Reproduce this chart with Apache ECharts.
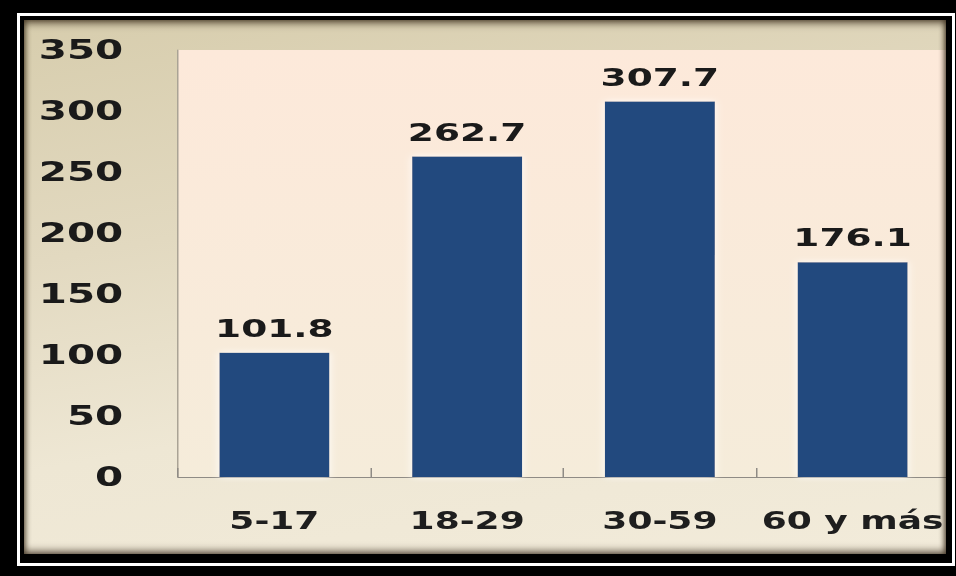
<!DOCTYPE html>
<html>
<head>
<meta charset="utf-8">
<script src="https://cdn.jsdelivr.net/npm/echarts@6/dist/echarts.min.js"></script>
<style>
html,body{margin:0;padding:0;background:#000;width:956px;height:576px;overflow:hidden;}
#white{position:absolute;left:17px;top:13px;width:938px;height:553px;background:#fff;}
#blackin{position:absolute;left:20px;top:16px;width:932px;height:547px;background:#000;}
#beige{position:absolute;left:24px;top:20px;width:922px;height:534px;
  background:linear-gradient(170deg,#d7cdad 0%,#e2d9c0 35%,#eee7d4 65%,#f2ebda 100%);}
#chart{position:absolute;left:0;top:0;width:637.333px;height:576px;transform:scaleX(1.5);transform-origin:0 0;}
#frame{position:absolute;left:20px;top:16px;width:932px;height:547px;box-sizing:border-box;
  border-style:solid;border-color:#000;border-width:4px 6px 9px 4px;
  box-shadow:inset 0 5px 7px -1px rgba(40,25,10,0.55), inset 0 -5px 7px -1px rgba(40,25,10,0.5), inset 3px 0 5px -1px rgba(40,25,10,0.35), inset -3px 0 5px -1px rgba(40,25,10,0.45);
  pointer-events:none;}
</style>
</head>
<body>
<div id="white"></div>
<div id="blackin"></div>
<div id="beige"></div>
<div id="chart"></div>
<div id="frame"></div>
<script>
const categories = ['5-17', '18-29', '30-59', '60 y más'];
const values = [101.8, 262.7, 307.7, 176.1];
const yTicks = [0, 50, 100, 150, 200, 250, 300, 350];

const chart = echarts.init(document.getElementById('chart'), null, {renderer: 'svg', width: 637.333, height: 576});
chart.setOption({
  animation: false,
  backgroundColor: 'transparent',
  grid: {
    left: 118.67, right: 4.67, top: 50, bottom: 99,
    show: true, borderWidth: 0,
    backgroundColor: {type: 'linear', x: 0, y: 0, x2: 0, y2: 1,
      colorStops: [{offset: 0, color: '#fde9da'}, {offset: 1, color: '#f5ecda'}]}
  },
  xAxis: {
    type: 'category',
    data: categories,
    axisLine: {show: true, lineStyle: {color: '#8f8b85', width: 1}},
    axisTick: {show: true, inside: true, length: 9, interval: 0, lineStyle: {color: '#8f8b85'}},
    axisLabel: {interval: 0, hideOverlap: false, margin: 32, color: '#1e1e1e', fontFamily: 'DejaVu Sans', fontWeight: 'bold', fontSize: 24}
  },
  yAxis: {
    type: 'value',
    min: yTicks[0], max: yTicks[yTicks.length - 1], interval: yTicks[1] - yTicks[0],
    splitLine: {show: false},
    axisTick: {show: false},
    axisLine: {show: true, lineStyle: {color: '#aaa395', width: 1}},
    axisLabel: {margin: 36.5, color: '#1a1a1a', fontFamily: 'DejaVu Sans', fontWeight: 'bold', fontSize: 27}
  },
  series: [{
    type: 'bar',
    data: values,
    barWidth: 73.3,
    itemStyle: {color: '#204a7e', shadowColor: 'rgba(255,255,255,0.95)', shadowBlur: 6},
    label: {
      show: true, position: 'top', distance: 12,
      color: '#1a1a1a', fontFamily: 'DejaVu Sans', fontWeight: 'bold', fontSize: 25,
      formatter: p => p.value.toFixed(1)
    }
  }]
});
</script>
</body>
</html>
